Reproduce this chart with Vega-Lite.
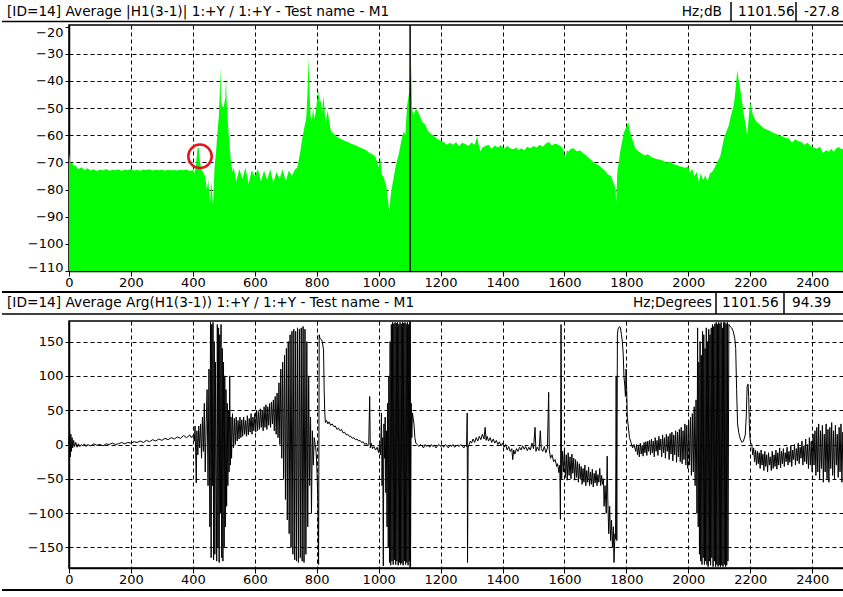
{
"$schema": "https://vega.github.io/schema/vega-lite/v6.json",
"background": "white",
"padding": 0,
"autosize": {"type": "pad"},
"datasets": {
"mag": [
{"f":0,"m":-66.5},{"f":5,"m":-70.5},{"f":10,"m":-70},{"f":15,"m":-71.5},{"f":20,"m":-71},{"f":30,"m":-72.5},{"f":40,"m":-71.8},{"f":50,"m":-72.8},{"f":60,"m":-72.2},{"f":70,"m":-73},{"f":80,"m":-72.5},{"f":90,"m":-73.2},{"f":100,"m":-72.6},{"f":110,"m":-73},{"f":120,"m":-72.4},{"f":130,"m":-73.1},{"f":140,"m":-72.7},{"f":150,"m":-72.9},{"f":160,"m":-72.5},{"f":170,"m":-73.2},{"f":180,"m":-72.6},{"f":190,"m":-72.9},{"f":200,"m":-72.4},{"f":210,"m":-73},{"f":220,"m":-72.7},{"f":230,"m":-73.1},{"f":240,"m":-72.6},{"f":250,"m":-72.8},{"f":260,"m":-72.5},{"f":270,"m":-73},{"f":280,"m":-72.7},{"f":290,"m":-72.9},{"f":300,"m":-72.6},{"f":310,"m":-73.1},{"f":320,"m":-72.7},{"f":330,"m":-72.9},{"f":340,"m":-72.8},{"f":350,"m":-73},{"f":360,"m":-72.7},{"f":370,"m":-72.9},{"f":380,"m":-72.6},{"f":390,"m":-73.2},{"f":400,"m":-72.8},{"f":405,"m":-74},{"f":410,"m":-71},{"f":415,"m":-65},{"f":419,"m":-64.5},{"f":423,"m":-70},{"f":428,"m":-72.5},{"f":435,"m":-74},{"f":440,"m":-75.5},{"f":445,"m":-80},{"f":450,"m":-76.5},{"f":455,"m":-85.5},{"f":460,"m":-77},{"f":465,"m":-86},{"f":470,"m":-72},{"f":475,"m":-66},{"f":480,"m":-58},{"f":484,"m":-53},{"f":487,"m":-44},{"f":489,"m":-35},{"f":491,"m":-47},{"f":494,"m":-49},{"f":498,"m":-50},{"f":502,"m":-48},{"f":505,"m":-46},{"f":507,"m":-38.5},{"f":509,"m":-47},{"f":512,"m":-54},{"f":516,"m":-60},{"f":520,"m":-66},{"f":524,"m":-71},{"f":528,"m":-73.5},{"f":532,"m":-72},{"f":540,"m":-77},{"f":550,"m":-72.5},{"f":560,"m":-76},{"f":570,"m":-72},{"f":580,"m":-78},{"f":590,"m":-73},{"f":600,"m":-75},{"f":610,"m":-72.5},{"f":620,"m":-77},{"f":630,"m":-73},{"f":640,"m":-76.5},{"f":650,"m":-72.5},{"f":660,"m":-77.5},{"f":670,"m":-73.5},{"f":680,"m":-76},{"f":690,"m":-72.5},{"f":700,"m":-77},{"f":710,"m":-73},{"f":720,"m":-75},{"f":730,"m":-72.5},{"f":737,"m":-72},{"f":742,"m":-69},{"f":747,"m":-66},{"f":752,"m":-62},{"f":757,"m":-59},{"f":762,"m":-56},{"f":766,"m":-54},{"f":770,"m":-45},{"f":774,"m":-31.5},{"f":777,"m":-45},{"f":780,"m":-53},{"f":784,"m":-55},{"f":788,"m":-50},{"f":792,"m":-54},{"f":796,"m":-52},{"f":800,"m":-48},{"f":804,"m":-46},{"f":807,"m":-43.5},{"f":810,"m":-48},{"f":813,"m":-47},{"f":817,"m":-52},{"f":822,"m":-45.5},{"f":825,"m":-50},{"f":828,"m":-56},{"f":832,"m":-53},{"f":836,"m":-51},{"f":840,"m":-55},{"f":845,"m":-58},{"f":850,"m":-59},{"f":860,"m":-60},{"f":870,"m":-61},{"f":880,"m":-61.5},{"f":890,"m":-62},{"f":900,"m":-62.5},{"f":910,"m":-63},{"f":920,"m":-63.5},{"f":930,"m":-64},{"f":940,"m":-64.5},{"f":950,"m":-65},{"f":960,"m":-65.5},{"f":970,"m":-66.5},{"f":980,"m":-67},{"f":990,"m":-68},{"f":1000,"m":-72},{"f":1005,"m":-68},{"f":1010,"m":-74.5},{"f":1015,"m":-75},{"f":1020,"m":-77},{"f":1025,"m":-79},{"f":1030,"m":-84},{"f":1035,"m":-88.5},{"f":1038,"m":-83},{"f":1043,"m":-79},{"f":1048,"m":-76},{"f":1054,"m":-72},{"f":1060,"m":-69},{"f":1065,"m":-67},{"f":1070,"m":-64},{"f":1075,"m":-61},{"f":1081,"m":-58.5},{"f":1086,"m":-60},{"f":1092,"m":-49},{"f":1096,"m":-46},{"f":1099,"m":-44},{"f":1103,"m":-38},{"f":1105,"m":-34.3},{"f":1108,"m":-50},{"f":1113,"m":-53},{"f":1117,"m":-51},{"f":1120,"m":-50.5},{"f":1124,"m":-50.8},{"f":1130,"m":-52},{"f":1140,"m":-55},{"f":1150,"m":-56},{"f":1160,"m":-58.5},{"f":1170,"m":-59.5},{"f":1180,"m":-60.5},{"f":1190,"m":-61.5},{"f":1200,"m":-62},{"f":1210,"m":-62.5},{"f":1220,"m":-63.5},{"f":1230,"m":-62.8},{"f":1240,"m":-63.5},{"f":1250,"m":-62.6},{"f":1260,"m":-64},{"f":1270,"m":-62.8},{"f":1280,"m":-63.2},{"f":1290,"m":-64},{"f":1300,"m":-62.7},{"f":1310,"m":-63.5},{"f":1318,"m":-60.5},{"f":1322,"m":-63},{"f":1329,"m":-66},{"f":1335,"m":-64.5},{"f":1345,"m":-64},{"f":1355,"m":-63.5},{"f":1365,"m":-65},{"f":1375,"m":-63.8},{"f":1385,"m":-64.5},{"f":1395,"m":-63.6},{"f":1405,"m":-65},{"f":1415,"m":-64},{"f":1425,"m":-64.8},{"f":1435,"m":-65.2},{"f":1445,"m":-64.5},{"f":1452,"m":-65.5},{"f":1460,"m":-64.8},{"f":1470,"m":-65.5},{"f":1480,"m":-64.2},{"f":1490,"m":-64.8},{"f":1500,"m":-64},{"f":1510,"m":-64.5},{"f":1520,"m":-63.5},{"f":1530,"m":-64.2},{"f":1540,"m":-63},{"f":1550,"m":-62.5},{"f":1560,"m":-63.8},{"f":1570,"m":-63},{"f":1580,"m":-63.5},{"f":1587,"m":-64},{"f":1595,"m":-65},{"f":1603,"m":-68.5},{"f":1608,"m":-65.5},{"f":1614,"m":-66},{"f":1620,"m":-65},{"f":1630,"m":-64.8},{"f":1640,"m":-66},{"f":1650,"m":-65.5},{"f":1660,"m":-66.5},{"f":1670,"m":-67.5},{"f":1680,"m":-68.5},{"f":1690,"m":-69.5},{"f":1700,"m":-70.5},{"f":1710,"m":-71},{"f":1720,"m":-72},{"f":1730,"m":-73},{"f":1740,"m":-74.5},{"f":1750,"m":-75},{"f":1757,"m":-77},{"f":1763,"m":-79},{"f":1767,"m":-84.5},{"f":1771,"m":-73},{"f":1775,"m":-70.5},{"f":1780,"m":-66},{"f":1786,"m":-62.5},{"f":1792,"m":-59},{"f":1797,"m":-57.5},{"f":1803,"m":-56},{"f":1806,"m":-55},{"f":1810,"m":-58},{"f":1814,"m":-59.5},{"f":1818,"m":-61},{"f":1824,"m":-63},{"f":1829,"m":-65},{"f":1840,"m":-66},{"f":1850,"m":-66.8},{"f":1860,"m":-67.5},{"f":1870,"m":-67},{"f":1880,"m":-68},{"f":1890,"m":-68.5},{"f":1900,"m":-68.8},{"f":1910,"m":-69},{"f":1920,"m":-69.5},{"f":1930,"m":-70},{"f":1940,"m":-69.8},{"f":1950,"m":-70.5},{"f":1960,"m":-71},{"f":1970,"m":-71.3},{"f":1980,"m":-71.7},{"f":1990,"m":-72},{"f":2000,"m":-71.5},{"f":2005,"m":-74},{"f":2012,"m":-72.3},{"f":2020,"m":-75},{"f":2027,"m":-73.5},{"f":2034,"m":-77.2},{"f":2040,"m":-74},{"f":2048,"m":-76.5},{"f":2055,"m":-74.7},{"f":2062,"m":-77},{"f":2070,"m":-74},{"f":2077,"m":-73.5},{"f":2085,"m":-72},{"f":2093,"m":-69.8},{"f":2098,"m":-69},{"f":2104,"m":-67.4},{"f":2110,"m":-64},{"f":2115,"m":-61.2},{"f":2120,"m":-59.5},{"f":2125,"m":-58},{"f":2131,"m":-56.3},{"f":2137,"m":-53},{"f":2142,"m":-51},{"f":2147,"m":-48.9},{"f":2151,"m":-45},{"f":2155,"m":-40},{"f":2158,"m":-36.1},{"f":2162,"m":-39},{"f":2166,"m":-42},{"f":2169,"m":-44.1},{"f":2174,"m":-48},{"f":2177,"m":-50.5},{"f":2180,"m":-52.7},{"f":2185,"m":-56},{"f":2190,"m":-60},{"f":2194,"m":-55},{"f":2198,"m":-50},{"f":2201,"m":-47.8},{"f":2205,"m":-51},{"f":2210,"m":-53},{"f":2217,"m":-54.5},{"f":2225,"m":-55.5},{"f":2235,"m":-56.5},{"f":2245,"m":-57.5},{"f":2255,"m":-58},{"f":2265,"m":-58.5},{"f":2275,"m":-59.2},{"f":2285,"m":-59.5},{"f":2295,"m":-60.2},{"f":2305,"m":-60.5},{"f":2315,"m":-61},{"f":2325,"m":-61.2},{"f":2335,"m":-62.8},{"f":2345,"m":-61.5},{"f":2355,"m":-62.2},{"f":2365,"m":-62.5},{"f":2375,"m":-63.5},{"f":2385,"m":-62.8},{"f":2395,"m":-64},{"f":2405,"m":-64.5},{"f":2415,"m":-65},{"f":2425,"m":-64.2},{"f":2435,"m":-66.5},{"f":2445,"m":-65.5},{"f":2454,"m":-66.1},{"f":2462,"m":-65},{"f":2470,"m":-66.2},{"f":2478,"m":-64.8},{"f":2486,"m":-64.3},{"f":2494,"m":-65.2},{"f":2506,"m":-65}
],
"phase": [
{"f":0,"p":0},{"f":2,"p":20},{"f":4,"p":-18},{"f":6,"p":15},{"f":8,"p":-10},{"f":10,"p":10},{"f":12,"p":-5},{"f":15,"p":6},{"f":18,"p":-3},{"f":22,"p":3},{"f":26,"p":-4},{"f":30,"p":1},{"f":35,"p":-3},{"f":40,"p":0},{"f":45,"p":-2},{"f":50,"p":1},{"f":55,"p":-3},{"f":60,"p":0},{"f":70,"p":-2},{"f":80,"p":1},{"f":90,"p":-1},{"f":100,"p":0},{"f":110,"p":-2},{"f":120,"p":1},{"f":130,"p":0},{"f":140,"p":2},{"f":150,"p":0},{"f":160,"p":1},{"f":170,"p":3},{"f":180,"p":1},{"f":190,"p":3},{"f":200,"p":2},{"f":210,"p":4},{"f":220,"p":3},{"f":230,"p":5},{"f":240,"p":3},{"f":250,"p":6},{"f":260,"p":4},{"f":270,"p":7},{"f":280,"p":5},{"f":290,"p":8},{"f":300,"p":6},{"f":310,"p":9},{"f":320,"p":7},{"f":330,"p":10},{"f":340,"p":8},{"f":350,"p":11},{"f":360,"p":9},{"f":370,"p":13},{"f":380,"p":10},{"f":390,"p":14},{"f":395,"p":10},{"f":400,"p":13},{"f":405,"p":5},{"f":407,"p":27},{"f":409,"p":-10},{"f":411,"p":-56},{"f":413,"p":20},{"f":416,"p":-15},{"f":419,"p":27},{"f":422,"p":-5},{"f":425,"p":30},{"f":428,"p":-20},{"f":431,"p":40},{"f":434,"p":-10},{"f":437,"p":60},{"f":440,"p":-40},{"f":443,"p":30},{"f":446,"p":80},{"f":449,"p":-60},{"f":452,"p":110},{"f":455,"p":-120},{"f":457,"p":178},{"f":459,"p":-165},{"f":461,"p":175},{"f":463,"p":-60},{"f":465,"p":178},{"f":467,"p":-168},{"f":469,"p":150},{"f":471,"p":-160},{"f":473,"p":120},{"f":475,"p":-30},{"f":477,"p":-170},{"f":479,"p":175},{"f":481,"p":-150},{"f":483,"p":170},{"f":485,"p":-172},{"f":487,"p":160},{"f":489,"p":-100},{"f":491,"p":175},{"f":493,"p":-165},{"f":495,"p":140},{"f":497,"p":-170},{"f":499,"p":120},{"f":501,"p":-150},{"f":503,"p":100},{"f":505,"p":-120},{"f":507,"p":80},{"f":509,"p":-90},{"f":511,"p":60},{"f":513,"p":-60},{"f":515,"p":50},{"f":517,"p":-40},{"f":519,"p":100},{"f":521,"p":-30},{"f":523,"p":40},{"f":525,"p":-20},{"f":528,"p":45},{"f":531,"p":-5},{"f":534,"p":38},{"f":537,"p":0},{"f":540,"p":40},{"f":543,"p":5},{"f":546,"p":35},{"f":549,"p":8},{"f":552,"p":40},{"f":555,"p":10},{"f":558,"p":36},{"f":561,"p":12},{"f":564,"p":40},{"f":567,"p":15},{"f":570,"p":35},{"f":573,"p":12},{"f":576,"p":42},{"f":579,"p":14},{"f":582,"p":38},{"f":585,"p":18},{"f":588,"p":45},{"f":591,"p":15},{"f":594,"p":40},{"f":597,"p":20},{"f":600,"p":45},{"f":603,"p":18},{"f":606,"p":50},{"f":609,"p":20},{"f":612,"p":48},{"f":615,"p":22},{"f":618,"p":52},{"f":621,"p":25},{"f":624,"p":50},{"f":627,"p":20},{"f":630,"p":55},{"f":633,"p":25},{"f":636,"p":58},{"f":639,"p":22},{"f":642,"p":55},{"f":645,"p":28},{"f":648,"p":60},{"f":651,"p":25},{"f":654,"p":62},{"f":657,"p":30},{"f":660,"p":65},{"f":663,"p":20},{"f":666,"p":70},{"f":669,"p":15},{"f":672,"p":75},{"f":675,"p":10},{"f":678,"p":90},{"f":681,"p":0},{"f":684,"p":110},{"f":687,"p":-20},{"f":690,"p":120},{"f":693,"p":-50},{"f":696,"p":130},{"f":699,"p":-80},{"f":702,"p":140},{"f":705,"p":-110},{"f":708,"p":150},{"f":711,"p":-130},{"f":714,"p":160},{"f":717,"p":-150},{"f":720,"p":165},{"f":723,"p":-160},{"f":726,"p":168},{"f":729,"p":-168},{"f":732,"p":165},{"f":735,"p":-170},{"f":738,"p":170},{"f":741,"p":-172},{"f":744,"p":168},{"f":747,"p":-165},{"f":750,"p":170},{"f":753,"p":-170},{"f":756,"p":172},{"f":759,"p":-172},{"f":762,"p":168},{"f":765,"p":-160},{"f":768,"p":150},{"f":771,"p":-120},{"f":774,"p":100},{"f":777,"p":-60},{"f":780,"p":40},{"f":783,"p":-100},{"f":786,"p":20},{"f":789,"p":-30},{"f":792,"p":10},{"f":795,"p":0},{"f":798,"p":-10},{"f":801,"p":-40},{"f":804,"p":-90},{"f":806,"p":-175},{"f":808,"p":160},{"f":810,"p":155},{"f":815,"p":153},{"f":818,"p":150},{"f":822,"p":138},{"f":824,"p":80},{"f":826,"p":46},{"f":828,"p":32},{"f":832,"p":35},{"f":836,"p":30},{"f":840,"p":33},{"f":845,"p":28},{"f":850,"p":30},{"f":855,"p":26},{"f":860,"p":27},{"f":865,"p":22},{"f":870,"p":24},{"f":875,"p":20},{"f":880,"p":22},{"f":885,"p":17},{"f":890,"p":18},{"f":895,"p":14},{"f":900,"p":15},{"f":905,"p":12},{"f":910,"p":12},{"f":915,"p":9},{"f":920,"p":10},{"f":925,"p":7},{"f":930,"p":8},{"f":935,"p":5},{"f":940,"p":6},{"f":945,"p":3},{"f":950,"p":4},{"f":955,"p":0},{"f":960,"p":2},{"f":965,"p":-2},{"f":968,"p":0},{"f":971,"p":70},{"f":973,"p":-5},{"f":976,"p":2},{"f":980,"p":-6},{"f":985,"p":-3},{"f":990,"p":-8},{"f":995,"p":-4},{"f":1000,"p":-12},{"f":1003,"p":0},{"f":1006,"p":-15},{"f":1009,"p":46},{"f":1011,"p":-60},{"f":1013,"p":10},{"f":1015,"p":-177},{"f":1017,"p":30},{"f":1019,"p":-20},{"f":1021,"p":40},{"f":1023,"p":-70},{"f":1025,"p":20},{"f":1027,"p":-120},{"f":1029,"p":60},{"f":1031,"p":-150},{"f":1033,"p":100},{"f":1035,"p":-172},{"f":1037,"p":150},{"f":1039,"p":-176},{"f":1041,"p":175},{"f":1043,"p":-170},{"f":1045,"p":178},{"f":1047,"p":-175},{"f":1049,"p":176},{"f":1051,"p":-168},{"f":1053,"p":178},{"f":1055,"p":-175},{"f":1057,"p":177},{"f":1059,"p":-170},{"f":1061,"p":178},{"f":1063,"p":-176},{"f":1065,"p":175},{"f":1067,"p":-172},{"f":1069,"p":178},{"f":1071,"p":-175},{"f":1073,"p":176},{"f":1075,"p":-173},{"f":1077,"p":178},{"f":1079,"p":-176},{"f":1081,"p":177},{"f":1083,"p":-170},{"f":1085,"p":178},{"f":1087,"p":-175},{"f":1089,"p":176},{"f":1091,"p":-172},{"f":1093,"p":178},{"f":1095,"p":-176},{"f":1097,"p":175},{"f":1099,"p":-170},{"f":1101,"p":178},{"f":1103,"p":-177},{"f":1105,"p":60},{"f":1107,"p":10},{"f":1109,"p":46},{"f":1111,"p":40},{"f":1114,"p":30},{"f":1117,"p":10},{"f":1120,"p":2},{"f":1125,"p":0},{"f":1130,"p":-3},{"f":1135,"p":0},{"f":1140,"p":-2},{"f":1145,"p":-5},{"f":1150,"p":0},{"f":1155,"p":-3},{"f":1160,"p":-1},{"f":1165,"p":-4},{"f":1170,"p":0},{"f":1175,"p":-3},{"f":1180,"p":-1},{"f":1185,"p":-5},{"f":1190,"p":-2},{"f":1195,"p":0},{"f":1200,"p":-3},{"f":1205,"p":-1},{"f":1210,"p":-4},{"f":1215,"p":0},{"f":1220,"p":-2},{"f":1225,"p":-5},{"f":1230,"p":-1},{"f":1235,"p":-3},{"f":1240,"p":0},{"f":1245,"p":-4},{"f":1250,"p":-2},{"f":1255,"p":-1},{"f":1260,"p":-3},{"f":1265,"p":0},{"f":1270,"p":-2},{"f":1275,"p":-5},{"f":1280,"p":-1},{"f":1284,"p":-3},{"f":1286,"p":46},{"f":1287,"p":-172},{"f":1289,"p":-5},{"f":1292,"p":0},{"f":1296,"p":5},{"f":1300,"p":2},{"f":1305,"p":8},{"f":1310,"p":3},{"f":1315,"p":10},{"f":1320,"p":5},{"f":1325,"p":12},{"f":1330,"p":7},{"f":1335,"p":15},{"f":1340,"p":8},{"f":1344,"p":25},{"f":1347,"p":6},{"f":1350,"p":12},{"f":1355,"p":5},{"f":1360,"p":10},{"f":1365,"p":3},{"f":1370,"p":8},{"f":1375,"p":2},{"f":1380,"p":6},{"f":1385,"p":0},{"f":1390,"p":4},{"f":1395,"p":-2},{"f":1400,"p":2},{"f":1405,"p":-4},{"f":1410,"p":0},{"f":1415,"p":-8},{"f":1420,"p":-3},{"f":1425,"p":-10},{"f":1430,"p":-6},{"f":1433,"p":-22},{"f":1436,"p":-8},{"f":1440,"p":-14},{"f":1445,"p":-6},{"f":1450,"p":-10},{"f":1455,"p":-4},{"f":1460,"p":-8},{"f":1465,"p":-2},{"f":1470,"p":-7},{"f":1475,"p":-3},{"f":1480,"p":-9},{"f":1485,"p":-4},{"f":1490,"p":-8},{"f":1495,"p":2},{"f":1500,"p":-6},{"f":1505,"p":25},{"f":1508,"p":-10},{"f":1512,"p":-4},{"f":1518,"p":-9},{"f":1522,"p":20},{"f":1525,"p":-6},{"f":1530,"p":-10},{"f":1535,"p":-3},{"f":1540,"p":-12},{"f":1545,"p":-5},{"f":1549,"p":76},{"f":1551,"p":-8},{"f":1555,"p":-20},{"f":1560,"p":-15},{"f":1565,"p":-25},{"f":1570,"p":-22},{"f":1575,"p":-32},{"f":1578,"p":-28},{"f":1582,"p":-41},{"f":1585,"p":-30},{"f":1587,"p":-109},{"f":1589,"p":175},{"f":1591,"p":-50},{"f":1594,"p":-10},{"f":1597,"p":-40},{"f":1600,"p":-8},{"f":1603,"p":-48},{"f":1606,"p":-15},{"f":1609,"p":-52},{"f":1612,"p":-12},{"f":1615,"p":-45},{"f":1618,"p":-18},{"f":1621,"p":-50},{"f":1624,"p":-14},{"f":1627,"p":-42},{"f":1630,"p":-20},{"f":1633,"p":-52},{"f":1636,"p":-22},{"f":1639,"p":-48},{"f":1642,"p":-25},{"f":1645,"p":-55},{"f":1648,"p":-28},{"f":1651,"p":-50},{"f":1654,"p":-32},{"f":1657,"p":-58},{"f":1660,"p":-35},{"f":1663,"p":-55},{"f":1666,"p":-30},{"f":1669,"p":-60},{"f":1672,"p":-38},{"f":1675,"p":-55},{"f":1678,"p":-33},{"f":1681,"p":-60},{"f":1684,"p":-40},{"f":1687,"p":-58},{"f":1690,"p":-36},{"f":1693,"p":-62},{"f":1696,"p":-42},{"f":1699,"p":-56},{"f":1702,"p":-38},{"f":1705,"p":-60},{"f":1708,"p":-44},{"f":1711,"p":-55},{"f":1714,"p":-35},{"f":1717,"p":-60},{"f":1720,"p":-45},{"f":1723,"p":-58},{"f":1726,"p":-50},{"f":1728,"p":-90},{"f":1731,"p":-60},{"f":1735,"p":-100},{"f":1738,"p":-17},{"f":1740,"p":-80},{"f":1743,"p":-130},{"f":1746,"p":-90},{"f":1749,"p":-140},{"f":1752,"p":-110},{"f":1755,"p":-150},{"f":1758,"p":-120},{"f":1760,"p":-172},{"f":1763,"p":-130},{"f":1765,"p":-138},{"f":1767,"p":100},{"f":1769,"p":-140},{"f":1771,"p":160},{"f":1773,"p":168},{"f":1775,"p":170},{"f":1778,"p":172},{"f":1781,"p":170},{"f":1784,"p":160},{"f":1787,"p":150},{"f":1790,"p":130},{"f":1792,"p":100},{"f":1795,"p":85},{"f":1797,"p":70},{"f":1799,"p":110},{"f":1801,"p":80},{"f":1803,"p":40},{"f":1806,"p":27},{"f":1810,"p":10},{"f":1815,"p":3},{"f":1820,"p":-5},{"f":1825,"p":0},{"f":1830,"p":-10},{"f":1833,"p":0},{"f":1836,"p":-15},{"f":1839,"p":-2},{"f":1842,"p":-18},{"f":1845,"p":2},{"f":1848,"p":-14},{"f":1851,"p":-1},{"f":1854,"p":-17},{"f":1857,"p":3},{"f":1860,"p":-12},{"f":1863,"p":4},{"f":1866,"p":-16},{"f":1869,"p":5},{"f":1872,"p":-10},{"f":1875,"p":6},{"f":1878,"p":-15},{"f":1881,"p":8},{"f":1884,"p":-12},{"f":1887,"p":5},{"f":1890,"p":-18},{"f":1893,"p":10},{"f":1896,"p":-10},{"f":1899,"p":6},{"f":1902,"p":-16},{"f":1905,"p":12},{"f":1908,"p":-8},{"f":1911,"p":8},{"f":1914,"p":-18},{"f":1917,"p":14},{"f":1920,"p":-12},{"f":1923,"p":10},{"f":1926,"p":-20},{"f":1929,"p":15},{"f":1932,"p":-10},{"f":1935,"p":12},{"f":1938,"p":-22},{"f":1941,"p":16},{"f":1944,"p":-14},{"f":1947,"p":18},{"f":1950,"p":-24},{"f":1953,"p":14},{"f":1956,"p":-15},{"f":1959,"p":20},{"f":1962,"p":-26},{"f":1965,"p":18},{"f":1968,"p":-18},{"f":1971,"p":22},{"f":1974,"p":-25},{"f":1977,"p":25},{"f":1980,"p":-28},{"f":1983,"p":20},{"f":1986,"p":-22},{"f":1989,"p":30},{"f":1992,"p":-30},{"f":1995,"p":28},{"f":1998,"p":-35},{"f":2001,"p":35},{"f":2004,"p":-30},{"f":2007,"p":40},{"f":2010,"p":-45},{"f":2013,"p":45},{"f":2016,"p":-40},{"f":2019,"p":55},{"f":2022,"p":-60},{"f":2025,"p":65},{"f":2028,"p":-100},{"f":2030,"p":170},{"f":2032,"p":-120},{"f":2034,"p":120},{"f":2036,"p":-160},{"f":2038,"p":150},{"f":2040,"p":-170},{"f":2042,"p":130},{"f":2044,"p":-175},{"f":2046,"p":165},{"f":2048,"p":-165},{"f":2050,"p":160},{"f":2052,"p":-175},{"f":2054,"p":140},{"f":2056,"p":-170},{"f":2058,"p":170},{"f":2060,"p":-175},{"f":2062,"p":150},{"f":2064,"p":-178},{"f":2066,"p":168},{"f":2068,"p":-170},{"f":2070,"p":160},{"f":2072,"p":-176},{"f":2074,"p":170},{"f":2076,"p":-165},{"f":2078,"p":175},{"f":2080,"p":-178},{"f":2082,"p":172},{"f":2084,"p":-170},{"f":2086,"p":176},{"f":2088,"p":-178},{"f":2090,"p":178},{"f":2092,"p":-175},{"f":2094,"p":175},{"f":2096,"p":-178},{"f":2098,"p":178},{"f":2100,"p":-176},{"f":2102,"p":176},{"f":2104,"p":-178},{"f":2106,"p":178},{"f":2108,"p":-176},{"f":2110,"p":170},{"f":2112,"p":-178},{"f":2114,"p":178},{"f":2116,"p":-175},{"f":2118,"p":178},{"f":2120,"p":-178},{"f":2122,"p":176},{"f":2124,"p":-176},{"f":2126,"p":178},{"f":2128,"p":-170},{"f":2131,"p":175},{"f":2135,"p":172},{"f":2140,"p":170},{"f":2145,"p":165},{"f":2150,"p":155},{"f":2153,"p":140},{"f":2156,"p":80},{"f":2159,"p":30},{"f":2163,"p":17},{"f":2168,"p":8},{"f":2174,"p":3},{"f":2178,"p":5},{"f":2184,"p":14},{"f":2187,"p":40},{"f":2190,"p":85},{"f":2193,"p":88},{"f":2195,"p":70},{"f":2197,"p":30},{"f":2199,"p":10},{"f":2201,"p":3},{"f":2205,"p":0},{"f":2208,"p":-15},{"f":2211,"p":-5},{"f":2214,"p":-25},{"f":2217,"p":-8},{"f":2220,"p":-30},{"f":2223,"p":-10},{"f":2226,"p":-28},{"f":2229,"p":-12},{"f":2232,"p":-35},{"f":2235,"p":-8},{"f":2238,"p":-30},{"f":2241,"p":-14},{"f":2244,"p":-38},{"f":2247,"p":-10},{"f":2250,"p":-32},{"f":2253,"p":-15},{"f":2256,"p":-40},{"f":2259,"p":-12},{"f":2262,"p":-30},{"f":2265,"p":-18},{"f":2268,"p":-38},{"f":2271,"p":-10},{"f":2274,"p":-35},{"f":2277,"p":-15},{"f":2280,"p":-32},{"f":2283,"p":-8},{"f":2286,"p":-36},{"f":2289,"p":-12},{"f":2292,"p":-30},{"f":2295,"p":-5},{"f":2298,"p":-34},{"f":2301,"p":-10},{"f":2304,"p":-28},{"f":2307,"p":-6},{"f":2310,"p":-32},{"f":2313,"p":-12},{"f":2316,"p":-25},{"f":2319,"p":-4},{"f":2322,"p":-30},{"f":2325,"p":-10},{"f":2328,"p":-26},{"f":2331,"p":-2},{"f":2334,"p":-32},{"f":2337,"p":-8},{"f":2340,"p":-22},{"f":2343,"p":0},{"f":2346,"p":-30},{"f":2349,"p":-6},{"f":2352,"p":-24},{"f":2355,"p":2},{"f":2358,"p":-28},{"f":2361,"p":-4},{"f":2364,"p":-20},{"f":2367,"p":5},{"f":2370,"p":-30},{"f":2373,"p":-2},{"f":2376,"p":-25},{"f":2379,"p":8},{"f":2382,"p":-28},{"f":2385,"p":0},{"f":2388,"p":-35},{"f":2391,"p":10},{"f":2394,"p":-30},{"f":2397,"p":5},{"f":2400,"p":-40},{"f":2403,"p":15},{"f":2406,"p":-30},{"f":2409,"p":20},{"f":2412,"p":-45},{"f":2415,"p":25},{"f":2418,"p":-40},{"f":2421,"p":30},{"f":2424,"p":-50},{"f":2427,"p":20},{"f":2430,"p":-35},{"f":2433,"p":28},{"f":2436,"p":-55},{"f":2439,"p":15},{"f":2442,"p":-40},{"f":2445,"p":30},{"f":2448,"p":-50},{"f":2451,"p":22},{"f":2454,"p":-55},{"f":2457,"p":25},{"f":2460,"p":-35},{"f":2463,"p":32},{"f":2466,"p":-45},{"f":2469,"p":20},{"f":2472,"p":-50},{"f":2475,"p":28},{"f":2478,"p":-30},{"f":2481,"p":15},{"f":2484,"p":-48},{"f":2487,"p":25},{"f":2490,"p":-40},{"f":2493,"p":30},{"f":2496,"p":-55},{"f":2499,"p":18},{"f":2502,"p":-45},{"f":2506,"p":-10}
]
},
"spacing": 0,
"vconcat": [
{
"width": 776,
"height": 246,
"layer": [
{"data": {"name": "mag"},
 "mark": {"type": "area", "color": "#00ff00", "interpolate": "linear"},
 "encoding": {
  "x": {"field": "f", "type": "quantitative", "scale": {"domain": [0, 2506], "nice": false, "zero": false},
        "axis": {"title": null, "values": [0,200,400,600,800,1000,1200,1400,1600,1800,2000,2200,2400], "format": "d", "labelPadding": 0, "labelFlush": false, "labelOverlap": false}},
  "y": {"field": "m", "type": "quantitative", "scale": {"domain": [-110, -19.4], "nice": false, "zero": false},
        "axis": {"title": null, "values": [-110,-100,-90,-80,-70,-60,-50,-40,-30,-20], "format": "d", "labelOverlap": false, "gridOpacity": {"condition": {"test": "datum.value < -105 || datum.value > -25", "value": 0}, "value": 1}, "labelOffset": {"condition": [{"test": "datum.value < -105", "value": -4}, {"test": "datum.value > -25", "value": 6}], "value": 0}}},
  "y2": {"datum": -110}
 }},
{"data": {"values": [{}]}, "mark": {"type": "rule", "color": "black", "strokeWidth": 1.5},
 "encoding": {"x": {"datum": 1101.56, "type": "quantitative", "axis": {"title": null, "values": [0,200,400,600,800,1000,1200,1400,1600,1800,2000,2200,2400], "format": "d", "labelPadding": 0, "labelFlush": false, "labelOverlap": false}}}},
{"data": {"values": [{}]}, "mark": {"type": "point", "shape": "circle", "filled": false, "color": "#e8141c", "strokeWidth": 2.5, "size": 550, "opacity": 1},
 "encoding": {
  "x": {"datum": 423, "type": "quantitative", "axis": {"title": null, "values": [0,200,400,600,800,1000,1200,1400,1600,1800,2000,2200,2400], "format": "d", "labelPadding": 0, "labelFlush": false, "labelOverlap": false}},
  "y": {"datum": -67.76, "type": "quantitative", "axis": {"title": null, "values": [-110,-100,-90,-80,-70,-60,-50,-40,-30,-20], "format": "d", "labelOverlap": false, "gridOpacity": {"condition": {"test": "datum.value < -105 || datum.value > -25", "value": 0}, "value": 1}, "labelOffset": {"condition": [{"test": "datum.value < -105", "value": -4}, {"test": "datum.value > -25", "value": 6}], "value": 0}}}}},
{"data": {"values": [{}]}, "mark": {"type": "rule", "color": "black", "strokeWidth": 1.5},
 "encoding": {
  "x": {"datum": -216.4, "type": "quantitative", "axis": {"title": null, "values": [0,200,400,600,800,1000,1200,1400,1600,1800,2000,2200,2400], "format": "d", "labelPadding": 0, "labelFlush": false, "labelOverlap": false}},
  "x2": {"datum": 2506},
  "y": {"datum": -18.11, "type": "quantitative", "axis": {"title": null, "values": [-110,-100,-90,-80,-70,-60,-50,-40,-30,-20], "format": "d", "labelOverlap": false, "gridOpacity": {"condition": {"test": "datum.value < -105 || datum.value > -25", "value": 0}, "value": 1}, "labelOffset": {"condition": [{"test": "datum.value < -105", "value": -4}, {"test": "datum.value > -25", "value": 6}], "value": 0}}}}},
{"data": {"values": [{}]}, "mark": {"type": "rule", "color": "black", "strokeWidth": 1.5},
 "encoding": {
  "x": {"datum": 2137.9, "type": "quantitative", "axis": {"title": null, "values": [0,200,400,600,800,1000,1200,1400,1600,1800,2000,2200,2400], "format": "d", "labelPadding": 0, "labelFlush": false, "labelOverlap": false}},
  "y": {"datum": -10.93, "type": "quantitative", "axis": {"title": null, "values": [-110,-100,-90,-80,-70,-60,-50,-40,-30,-20], "format": "d", "labelOverlap": false, "gridOpacity": {"condition": {"test": "datum.value < -105 || datum.value > -25", "value": 0}, "value": 1}, "labelOffset": {"condition": [{"test": "datum.value < -105", "value": -4}, {"test": "datum.value > -25", "value": 6}], "value": 0}}},
  "y2": {"datum": -18.11}}},
{"data": {"values": [{}]}, "mark": {"type": "rule", "color": "black", "strokeWidth": 1.5},
 "encoding": {
  "x": {"datum": 2347.8, "type": "quantitative", "axis": {"title": null, "values": [0,200,400,600,800,1000,1200,1400,1600,1800,2000,2200,2400], "format": "d", "labelPadding": 0, "labelFlush": false, "labelOverlap": false}},
  "y": {"datum": -10.93, "type": "quantitative", "axis": {"title": null, "values": [-110,-100,-90,-80,-70,-60,-50,-40,-30,-20], "format": "d", "labelOverlap": false, "gridOpacity": {"condition": {"test": "datum.value < -105 || datum.value > -25", "value": 0}, "value": 1}, "labelOffset": {"condition": [{"test": "datum.value < -105", "value": -4}, {"test": "datum.value > -25", "value": 6}], "value": 0}}},
  "y2": {"datum": -18.11}}},
{"data": {"values": [{}]}, "mark": {"type": "text", "align": "left", "baseline": "middle", "font": "DejaVu Sans", "fontSize": 13.7, "color": "black"},
 "encoding": {
  "x": {"datum": -200.2, "type": "quantitative", "axis": {"title": null, "values": [0,200,400,600,800,1000,1200,1400,1600,1800,2000,2200,2400], "format": "d", "labelPadding": 0, "labelFlush": false, "labelOverlap": false}},
  "y": {"datum": -14.61, "type": "quantitative", "axis": {"title": null, "values": [-110,-100,-90,-80,-70,-60,-50,-40,-30,-20], "format": "d", "labelOverlap": false, "gridOpacity": {"condition": {"test": "datum.value < -105 || datum.value > -25", "value": 0}, "value": 1}, "labelOffset": {"condition": [{"test": "datum.value < -105", "value": -4}, {"test": "datum.value > -25", "value": 6}], "value": 0}}},
  "text": {"value": "[ID=14] Average |H1(3-1)| 1:+Y / 1:+Y - Test name - M1"}}},
{"data": {"values": [{}]}, "mark": {"type": "text", "align": "right", "baseline": "middle", "font": "DejaVu Sans", "fontSize": 13.7, "color": "black"},
 "encoding": {
  "x": {"datum": 2108.8, "type": "quantitative", "axis": {"title": null, "values": [0,200,400,600,800,1000,1200,1400,1600,1800,2000,2200,2400], "format": "d", "labelPadding": 0, "labelFlush": false, "labelOverlap": false}},
  "y": {"datum": -14.61, "type": "quantitative", "axis": {"title": null, "values": [-110,-100,-90,-80,-70,-60,-50,-40,-30,-20], "format": "d", "labelOverlap": false, "gridOpacity": {"condition": {"test": "datum.value < -105 || datum.value > -25", "value": 0}, "value": 1}, "labelOffset": {"condition": [{"test": "datum.value < -105", "value": -4}, {"test": "datum.value > -25", "value": 6}], "value": 0}}},
  "text": {"value": "Hz;dB"}}},
{"data": {"values": [{}]}, "mark": {"type": "text", "align": "left", "baseline": "middle", "font": "DejaVu Sans", "fontSize": 13.7, "color": "black"},
 "encoding": {
  "x": {"datum": 2160.5, "type": "quantitative", "axis": {"title": null, "values": [0,200,400,600,800,1000,1200,1400,1600,1800,2000,2200,2400], "format": "d", "labelPadding": 0, "labelFlush": false, "labelOverlap": false}},
  "y": {"datum": -14.61, "type": "quantitative", "axis": {"title": null, "values": [-110,-100,-90,-80,-70,-60,-50,-40,-30,-20], "format": "d", "labelOverlap": false, "gridOpacity": {"condition": {"test": "datum.value < -105 || datum.value > -25", "value": 0}, "value": 1}, "labelOffset": {"condition": [{"test": "datum.value < -105", "value": -4}, {"test": "datum.value > -25", "value": 6}], "value": 0}}},
  "text": {"value": "1101.56"}}},
{"data": {"values": [{}]}, "mark": {"type": "text", "align": "left", "baseline": "middle", "font": "DejaVu Sans", "fontSize": 13.7, "color": "black"},
 "encoding": {
  "x": {"datum": 2373.6, "type": "quantitative", "axis": {"title": null, "values": [0,200,400,600,800,1000,1200,1400,1600,1800,2000,2200,2400], "format": "d", "labelPadding": 0, "labelFlush": false, "labelOverlap": false}},
  "y": {"datum": -14.61, "type": "quantitative", "axis": {"title": null, "values": [-110,-100,-90,-80,-70,-60,-50,-40,-30,-20], "format": "d", "labelOverlap": false, "gridOpacity": {"condition": {"test": "datum.value < -105 || datum.value > -25", "value": 0}, "value": 1}, "labelOffset": {"condition": [{"test": "datum.value < -105", "value": -4}, {"test": "datum.value > -25", "value": 6}], "value": 0}}},
  "text": {"value": "-27.8"}}}
]
},
{
"width": 776,
"height": 247,
"layer": [
{"data": {"name": "phase"},
 "mark": {"type": "line", "color": "black", "strokeWidth": 1, "interpolate": "linear"},
 "encoding": {
  "x": {"field": "f", "type": "quantitative", "scale": {"domain": [0, 2506], "nice": false, "zero": false},
        "axis": {"title": null, "values": [0,200,400,600,800,1000,1200,1400,1600,1800,2000,2200,2400], "format": "d", "labelPadding": 0, "labelFlush": false, "labelOverlap": false}},
  "y": {"field": "p", "type": "quantitative", "scale": {"domain": [-180, 180], "nice": false, "zero": false},
        "axis": {"title": null, "values": [-150,-100,-50,0,50,100,150], "format": "d", "labelOverlap": false}}
 }},
{"data": {"values": [{}]}, "mark": {"type": "rule", "color": "black", "strokeWidth": 1.5},
 "encoding": {"x": {"datum": 1101.56, "type": "quantitative", "axis": {"title": null, "values": [0,200,400,600,800,1000,1200,1400,1600,1800,2000,2200,2400], "format": "d", "labelPadding": 0, "labelFlush": false, "labelOverlap": false}}}},
{"data": {"values": [{}]}, "mark": {"type": "rule", "color": "black", "strokeWidth": 2},
 "encoding": {
  "x": {"datum": -216.4, "type": "quantitative", "axis": {"title": null, "values": [0,200,400,600,800,1000,1200,1400,1600,1800,2000,2200,2400], "format": "d", "labelPadding": 0, "labelFlush": false, "labelOverlap": false}},
  "x2": {"datum": 2506},
  "y": {"datum": 222.3, "type": "quantitative", "axis": {"title": null, "values": [-150,-100,-50,0,50,100,150], "format": "d", "labelOverlap": false}}}},
{"data": {"values": [{}]}, "mark": {"type": "rule", "color": "black", "strokeWidth": 1.5},
 "encoding": {
  "x": {"datum": -216.4, "type": "quantitative", "axis": {"title": null, "values": [0,200,400,600,800,1000,1200,1400,1600,1800,2000,2200,2400], "format": "d", "labelPadding": 0, "labelFlush": false, "labelOverlap": false}},
  "x2": {"datum": 2506},
  "y": {"datum": 190.2, "type": "quantitative", "axis": {"title": null, "values": [-150,-100,-50,0,50,100,150], "format": "d", "labelOverlap": false}}}},
{"data": {"values": [{}]}, "mark": {"type": "rule", "color": "black", "strokeWidth": 2},
 "encoding": {
  "x": {"datum": -216.4, "type": "quantitative", "axis": {"title": null, "values": [0,200,400,600,800,1000,1200,1400,1600,1800,2000,2200,2400], "format": "d", "labelPadding": 0, "labelFlush": false, "labelOverlap": false}},
  "x2": {"datum": 2506},
  "y": {"datum": -212, "type": "quantitative", "axis": {"title": null, "values": [-150,-100,-50,0,50,100,150], "format": "d", "labelOverlap": false}}}},
{"data": {"values": [{}]}, "mark": {"type": "rule", "color": "black", "strokeWidth": 1.5},
 "encoding": {
  "x": {"datum": 2089.4, "type": "quantitative", "axis": {"title": null, "values": [0,200,400,600,800,1000,1200,1400,1600,1800,2000,2200,2400], "format": "d", "labelPadding": 0, "labelFlush": false, "labelOverlap": false}},
  "y": {"datum": 222.3, "type": "quantitative", "axis": {"title": null, "values": [-150,-100,-50,0,50,100,150], "format": "d", "labelOverlap": false}},
  "y2": {"datum": 190.2}}},
{"data": {"values": [{}]}, "mark": {"type": "rule", "color": "black", "strokeWidth": 1.5},
 "encoding": {
  "x": {"datum": 2309, "type": "quantitative", "axis": {"title": null, "values": [0,200,400,600,800,1000,1200,1400,1600,1800,2000,2200,2400], "format": "d", "labelPadding": 0, "labelFlush": false, "labelOverlap": false}},
  "y": {"datum": 222.3, "type": "quantitative", "axis": {"title": null, "values": [-150,-100,-50,0,50,100,150], "format": "d", "labelOverlap": false}},
  "y2": {"datum": 190.2}}},
{"data": {"values": [{}]}, "mark": {"type": "text", "align": "left", "baseline": "middle", "font": "DejaVu Sans", "fontSize": 13.7, "color": "black"},
 "encoding": {
  "x": {"datum": -200.2, "type": "quantitative", "axis": {"title": null, "values": [0,200,400,600,800,1000,1200,1400,1600,1800,2000,2200,2400], "format": "d", "labelPadding": 0, "labelFlush": false, "labelOverlap": false}},
  "y": {"datum": 206.2, "type": "quantitative", "axis": {"title": null, "values": [-150,-100,-50,0,50,100,150], "format": "d", "labelOverlap": false}},
  "text": {"value": "[ID=14] Average Arg(H1(3-1)) 1:+Y / 1:+Y - Test name - M1"}}},
{"data": {"values": [{}]}, "mark": {"type": "text", "align": "right", "baseline": "middle", "font": "DejaVu Sans", "fontSize": 13.7, "color": "black"},
 "encoding": {
  "x": {"datum": 2076.5, "type": "quantitative", "axis": {"title": null, "values": [0,200,400,600,800,1000,1200,1400,1600,1800,2000,2200,2400], "format": "d", "labelPadding": 0, "labelFlush": false, "labelOverlap": false}},
  "y": {"datum": 206.2, "type": "quantitative", "axis": {"title": null, "values": [-150,-100,-50,0,50,100,150], "format": "d", "labelOverlap": false}},
  "text": {"value": "Hz;Degrees"}}},
{"data": {"values": [{}]}, "mark": {"type": "text", "align": "left", "baseline": "middle", "font": "DejaVu Sans", "fontSize": 13.7, "color": "black"},
 "encoding": {
  "x": {"datum": 2108.8, "type": "quantitative", "axis": {"title": null, "values": [0,200,400,600,800,1000,1200,1400,1600,1800,2000,2200,2400], "format": "d", "labelPadding": 0, "labelFlush": false, "labelOverlap": false}},
  "y": {"datum": 206.2, "type": "quantitative", "axis": {"title": null, "values": [-150,-100,-50,0,50,100,150], "format": "d", "labelOverlap": false}},
  "text": {"value": "1101.56"}}},
{"data": {"values": [{}]}, "mark": {"type": "text", "align": "left", "baseline": "middle", "font": "DejaVu Sans", "fontSize": 13.7, "color": "black"},
 "encoding": {
  "x": {"datum": 2334.9, "type": "quantitative", "axis": {"title": null, "values": [0,200,400,600,800,1000,1200,1400,1600,1800,2000,2200,2400], "format": "d", "labelPadding": 0, "labelFlush": false, "labelOverlap": false}},
  "y": {"datum": 206.2, "type": "quantitative", "axis": {"title": null, "values": [-150,-100,-50,0,50,100,150], "format": "d", "labelOverlap": false}},
  "text": {"value": "94.39"}}}
]
}
],
"config": {
 "view": {"stroke": "black", "strokeWidth": 1.5},
 "axis": {"grid": true, "gridColor": "black", "gridDash": [4, 3], "gridWidth": 1, "gridOpacity": 1,
          "domainColor": "black", "domainWidth": 1.5, "tickColor": "black", "tickSize": 5, "tickWidth": 1,
          "labelFont": "DejaVu Sans", "labelFontSize": 13, "labelColor": "black"},
 "axisY": {"labelPadding": 2, "tickSize": 4}
}
}
